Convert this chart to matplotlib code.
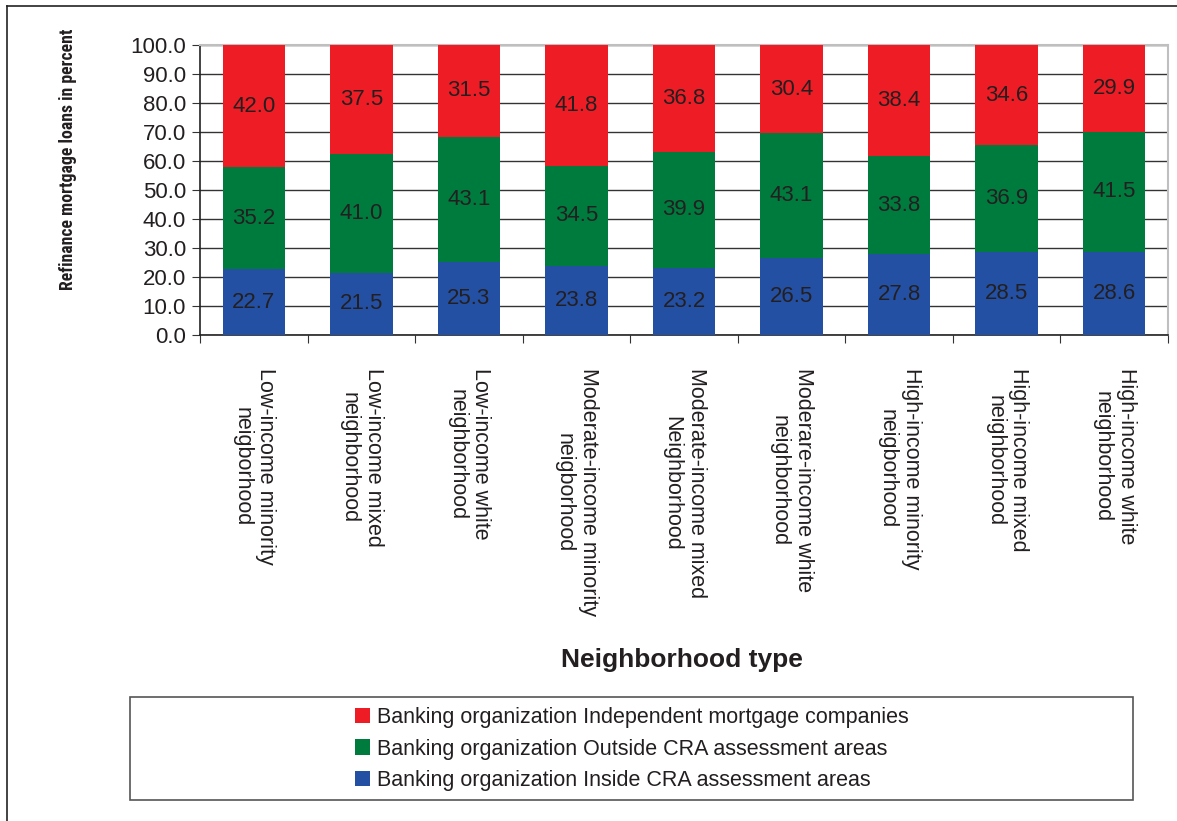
import matplotlib
matplotlib.use("Agg")
import matplotlib.pyplot as plt
import numpy as np
from matplotlib.patches import Rectangle, Patch
from matplotlib.lines import Line2D
from matplotlib import font_manager

categories = [
    "Low-income minority\nneigborhood",
    "Low-income mixed\nneighborhood",
    "Low-income white\nneighborhood",
    "Moderate-income minority\nneigborhood",
    "Moderate-income mixed\nNeighborhood",
    "Moderare-income white\nneighborhood",
    "High-income minority\nneigborhood",
    "High-income mixed\nneighborhood",
    "High-income white\nneighborhood",
]
inside_cra = [22.7, 21.5, 25.3, 23.8, 23.2, 26.5, 27.8, 28.5, 28.6]
outside_cra = [35.2, 41.0, 43.1, 34.5, 39.9, 43.1, 33.8, 36.9, 41.5]
independent = [42.0, 37.5, 31.5, 41.8, 36.8, 30.4, 38.4, 34.6, 29.9]
series_names = [
    "Banking organization Inside CRA assessment areas",
    "Banking organization Outside CRA assessment areas",
    "Banking organization Independent mortgage companies",
]
colors = ["#2450A3", "#007B3E", "#EE1D25"]
yticks = [0, 10, 20, 30, 40, 50, 60, 70, 80, 90, 100]

plt.rcParams['font.family'] = ['Liberation Sans', 'DejaVu Sans']
txt = "#231F20"

names = {f.name for f in font_manager.fontManager.ttflist}
narrow = None
for cand in ['Liberation Sans Narrow', 'Roboto Condensed', 'Open Sans Condensed',
             'Noto Sans Condensed', 'Roboto']:
    if cand in names:
        narrow = cand
        break
ylabel_family = [narrow, 'Liberation Sans'] if narrow else ['Liberation Sans']

fig = plt.figure(figsize=(11.77, 8.21), dpi=100)
ax = fig.add_axes([200/1177, 1-335/821, 968/1177, 290/821])

x = np.arange(len(categories))
bottom = np.zeros(len(categories))
for vals, c in zip([inside_cra, outside_cra, independent], colors):
    vals = np.array(vals)
    ax.bar(x, vals, width=0.58, bottom=bottom, color=c, zorder=3)
    for xi, b, v in zip(x, bottom, vals):
        ax.text(xi, b + v/2, f"{v:.1f}", ha='center', va='center',
                fontsize=16, color=txt, zorder=4)
    bottom = bottom + vals

ax.set_xlim(-0.5, len(categories) - 0.5)
ax.set_ylim(0, 100)
ax.set_yticks(yticks)
ax.set_yticklabels([f"{v:.1f}" for v in yticks], fontsize=16, color=txt)
ax.yaxis.grid(True, color="#333333", linewidth=1.0, zorder=0)
ax.set_axisbelow(True)

ax.set_xticks(np.arange(len(categories) + 1) - 0.5)
ax.set_xticklabels([])
ax.set_xticks(x, minor=True)
ax.set_xticklabels(categories, minor=True, rotation=-90, fontsize=15.5,
                   color=txt, ha='center', va='top', multialignment='center')
ax.tick_params(axis='x', which='minor', length=0, pad=24)
ax.tick_params(axis='x', which='major', length=6, direction='out', color="#333333")
ax.tick_params(axis='y', length=6, direction='out', color="#333333", pad=4)

for s in ['top', 'right']:
    ax.spines[s].set_color("#BFBFBF")
    ax.spines[s].set_linewidth(1.5)
for s in ['left', 'bottom']:
    ax.spines[s].set_color("#222222")
    ax.spines[s].set_linewidth(1.2)

ylab = fig.text(68/1177, 1-159/821, "Refinance mortgage loans in percent", rotation=90,
                ha='center', va='center', fontweight='bold', color=txt,
                fontsize=14, family=ylabel_family)
fig.canvas.draw()
h = ylab.get_window_extent().height
ylab.set_fontsize(14 * 262.0 / h)

fig.text(682/1177, 1-660/821, "Neighborhood type", ha='center', va='center',
         fontsize=19, fontweight='bold', color=txt)

fig.patches.append(Rectangle((130/1177, 1-800/821), 1003/1177, 103/821,
                             transform=fig.transFigure, fill=False,
                             edgecolor="#555555", linewidth=1.2))
handles = [Patch(facecolor=colors[i], edgecolor='none') for i in [2, 1, 0]]
labels = [series_names[i] for i in [2, 1, 0]]
fig.legend(handles, labels, loc='center', bbox_to_anchor=(632/1177, 1-749/821),
           frameon=False, fontsize=15.5, handlelength=0.7, handleheight=0.7,
           handletextpad=0.3, labelspacing=0.5, labelcolor=txt)

fig.add_artist(Line2D([7/1177, 7/1177], [0, 1-6/821], transform=fig.transFigure,
                      color="#222222", linewidth=1.2))
fig.add_artist(Line2D([7/1177, 1], [1-6/821, 1-6/821], transform=fig.transFigure,
                      color="#222222", linewidth=1.2))

fig.savefig("out.png", dpi=100)
